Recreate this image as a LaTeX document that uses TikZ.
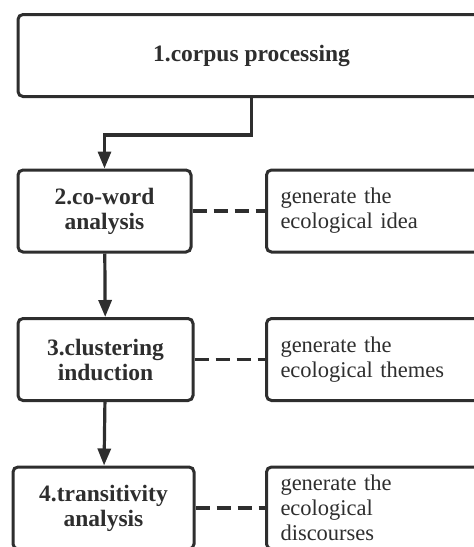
\documentclass[tikz,border=0pt]{standalone}
\usepackage{fontspec}
\setmainfont{Liberation Serif}
\usetikzlibrary{arrows.meta, positioning}
\definecolor{inkgray}{HTML}{2E2E2E}

\begin{document}
\begin{tikzpicture}[
  x=1pt, y=1pt,
  >={Triangle[length=17pt, width=13pt]},
  stagebox/.style={draw=inkgray, line width=3pt, rounded corners=5pt,
    fill=white, text=inkgray, font=\fontsize{23.5}{25}\selectfont\bfseries,
    align=center, minimum height=82pt, inner sep=0pt},
  resultbox/.style={draw=inkgray, line width=3pt, rounded corners=5pt,
    fill=white, text=inkgray, font=\fontsize{22.5}{25}\selectfont,
    align=left, anchor=west, text width=220pt, inner xsep=14pt,
    inner ysep=0pt, minimum height=82pt},
  flow/.style={draw=inkgray, line width=3.2pt, ->},
  link/.style={draw=inkgray, line width=3.2pt, dash pattern=on 14pt off 7pt},
]

% frame
\useasboundingbox (0,0) rectangle (474,-547);
\clip (0,0) rectangle (474,-547);

% === Stages ===
\node[stagebox, minimum width=467pt] (corpus) at (251.5,-55.5) {1.corpus processing};
\node[stagebox, minimum width=173pt] (coword) at (104.5,-211) {2.co-word\\analysis};
\node[stagebox, minimum width=175pt] (cluster) at (105.5,-359.5) {3.clustering\\induction};
\node[stagebox, minimum width=181pt] (trans) at (103.5,-508) {4.transitivity\\analysis};

% === Results ===
\node[resultbox] (idea) at (265,-211) {generate the\\ecological idea};
\node[resultbox] (themes) at (265,-359.5) {generate the\\ecological themes};
\node[resultbox] (discourse) at (265,-508) {generate the\\ecological\\discourses};

% === Flow ===
\draw[flow] (corpus.south) -- ++(0,-37) -| (coword.north);
\draw[flow] (coword) -- (cluster);
\draw[flow] (cluster) -- (trans);

% === Links ===
\draw[link] (coword) -- (idea);
\draw[link] (cluster) -- (themes);
\draw[link] (trans) -- (discourse);

\end{tikzpicture}
\end{document}
